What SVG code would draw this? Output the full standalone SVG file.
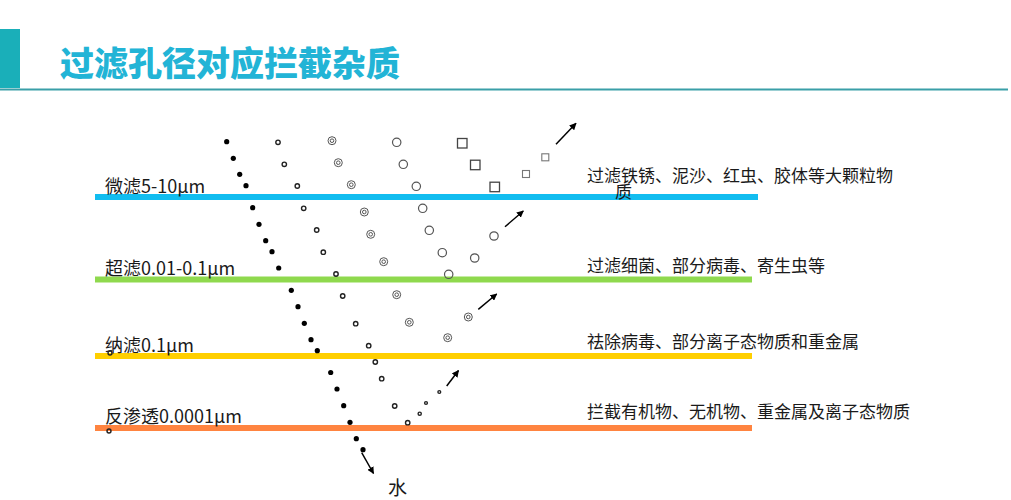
<svg xmlns="http://www.w3.org/2000/svg" width="1011" height="500" viewBox="0 0 1011 500">
<defs>
<style>
.t{font-family:"Noto Sans CJK SC","Liberation Sans",sans-serif;fill:#1a1a1a}
.lbl{font-size:18px}
.rl{font-size:17px}
.bd{fill:#000}
.sc{fill:none;stroke:#222;stroke-width:1.4}
.dc{fill:none;stroke:#555;stroke-width:1}
.oc{fill:none;stroke:#555;stroke-width:1.2}
.sq{fill:none;stroke:#444;stroke-width:1.3}
.sq2{fill:none;stroke:#777;stroke-width:1.1}
.ar{stroke:#000;stroke-width:1.5;fill:none;marker-end:url(#ah)}
</style>
<marker id="ah" viewBox="0 0 10 10" refX="9" refY="5" markerWidth="7" markerHeight="7" orient="auto" markerUnits="userSpaceOnUse">
<path d="M0,0 L10,5 L0,10 z" fill="#000"/>
</marker>
<g id="dc"><circle r="4" class="dc"/><circle r="1.8" class="dc"/></g>
</defs>
<rect width="1011" height="500" fill="#fff"/>
<g id="header">
<rect x="0" y="29" width="20" height="59" fill="#1aafb9"/>
<line x1="0" y1="89.5" x2="1008" y2="89.5" stroke="#3a9fa8" stroke-width="2"/>
<text x="60" y="76" font-family="'Noto Sans CJK SC',sans-serif" font-weight="900" font-size="34" fill="#22b4d6">过滤孔径对应拦截杂质</text>
</g>
<g id="filters">
<line x1="95" y1="197" x2="758" y2="197" stroke="#12bdf0" stroke-width="6"/>
<line x1="95" y1="279.5" x2="752" y2="279.5" stroke="#8fd94e" stroke-width="6"/>
<line x1="95" y1="356" x2="752" y2="356" stroke="#ffcf00" stroke-width="6"/>
<line x1="95" y1="428" x2="752" y2="428" stroke="#ff8440" stroke-width="6"/>
</g>
<g id="left-labels">
<text class="t lbl" x="105" y="193">微滤5-10μm</text>
<text class="t lbl" x="105" y="275">超滤0.01-0.1μm</text>
<text class="t lbl" x="105" y="352">纳滤0.1μm</text>
<text class="t lbl" x="105" y="423">反渗透0.0001μm</text>
<circle cx="110" cy="353" r="2" class="sc"/>
<circle cx="109" cy="431" r="2" class="sc"/>
</g>
<g id="right-labels">
<text class="t rl" x="587" y="182">过滤铁锈、泥沙、红虫、胶体等大颗粒物</text>
<text class="t rl" x="615" y="198">质</text>
<text class="t rl" x="587" y="272">过滤细菌、部分病毒、寄生虫等</text>
<text class="t rl" x="587" y="348">祛除病毒、部分离子态物质和重金属</text>
<text class="t rl" x="587" y="418">拦截有机物、无机物、重金属及离子态物质</text>
</g>
<g id="water-dots">
<circle class="bd" cx="226.7" cy="141.7" r="2.6"/>
<circle class="bd" cx="233.3" cy="158.3" r="2.6"/>
<circle class="bd" cx="239.7" cy="174.3" r="2.6"/>
<circle class="bd" cx="246" cy="185.7" r="2.6"/>
<circle class="bd" cx="252.7" cy="207.7" r="2.6"/>
<circle class="bd" cx="259" cy="224.3" r="2.6"/>
<circle class="bd" cx="265.7" cy="240.7" r="2.6"/>
<circle class="bd" cx="272" cy="251.7" r="2.6"/>
<circle class="bd" cx="278.7" cy="268" r="2.6"/>
<circle class="bd" cx="291.3" cy="290.3" r="2.6"/>
<circle class="bd" cx="298" cy="306.7" r="2.6"/>
<circle class="bd" cx="304.3" cy="323.3" r="2.6"/>
<circle class="bd" cx="311" cy="339.7" r="2.6"/>
<circle class="bd" cx="317.3" cy="350.7" r="2.6"/>
<circle class="bd" cx="330.7" cy="372.5" r="2.6"/>
<circle class="bd" cx="337" cy="389" r="2.6"/>
<circle class="bd" cx="343.7" cy="405.7" r="2.6"/>
<circle class="bd" cx="350" cy="422.3" r="2.6"/>
<circle class="bd" cx="356.3" cy="438.7" r="2.6"/>
<circle class="bd" cx="363" cy="449.7" r="2.6"/>
</g>
<g id="small-circles">
<circle class="sc" cx="278" cy="142.3" r="2.2"/>
<circle class="sc" cx="284.3" cy="164.3" r="2.2"/>
<circle class="sc" cx="297.3" cy="186" r="2.2"/>
<circle class="sc" cx="303.7" cy="208.3" r="2.2"/>
<circle class="sc" cx="316.7" cy="230" r="2.2"/>
<circle class="sc" cx="323.3" cy="252.2" r="2.2"/>
<circle class="sc" cx="336" cy="274" r="2.2"/>
<circle class="sc" cx="342.7" cy="296" r="2.2"/>
<circle class="sc" cx="355.7" cy="323.7" r="2.2"/>
<circle class="sc" cx="368.7" cy="345.7" r="2.2"/>
<circle class="sc" cx="375.3" cy="362" r="2.2"/>
<circle class="sc" cx="381.7" cy="378.7" r="2.2"/>
<circle class="sc" cx="394.7" cy="406" r="2.2"/>
<circle class="sc" cx="407.7" cy="422.7" r="2.2"/>
<circle class="sc" cx="419.7" cy="413.7" r="1.6"/>
<circle class="sc" cx="426" cy="403" r="1.4"/>
<circle class="sc" cx="439.3" cy="392" r="1.4"/>
</g>
<g id="double-circles">
<use href="#dc" x="332" y="140.7"/>
<use href="#dc" x="338.3" y="162.7"/>
<use href="#dc" x="351.3" y="184.7"/>
<use href="#dc" x="364.3" y="212"/>
<use href="#dc" x="370.7" y="234.3"/>
<use href="#dc" x="383.7" y="261.7"/>
<use href="#dc" x="396.7" y="294.7"/>
<use href="#dc" x="409.3" y="322.3"/>
<use href="#dc" x="447.7" y="337.7"/>
<use href="#dc" x="468.3" y="317"/>
</g>
<g id="open-circles">
<circle class="oc" cx="396.7" cy="142.3" r="4.2"/>
<circle class="oc" cx="403.3" cy="164.3" r="4.2"/>
<circle class="oc" cx="416.3" cy="186.3" r="4.2"/>
<circle class="oc" cx="422.7" cy="208.3" r="4.2"/>
<circle class="oc" cx="429.3" cy="230.3" r="4.2"/>
<circle class="oc" cx="442.3" cy="252.7" r="4.2"/>
<circle class="oc" cx="448.7" cy="274.3" r="4.2"/>
<circle class="oc" cx="474.7" cy="258" r="4.2"/>
<circle class="oc" cx="494" cy="236" r="4.2"/>
</g>
<g id="squares">
<rect class="sq" x="457.5" y="138.5" width="9.5" height="9.5"/>
<rect class="sq" x="470.5" y="160.2" width="9.5" height="9.5"/>
<rect class="sq" x="490" y="182.2" width="9.5" height="9.5"/>
<rect class="sq2" x="522.5" y="170.5" width="7" height="7"/>
<rect class="sq2" x="541.8" y="153.8" width="7" height="7"/>
</g>
<g id="connectors">
<line class="ar" x1="361.7" y1="452.7" x2="373.5" y2="473.5"/>
<line class="ar" x1="446.7" y1="386" x2="458.5" y2="370.5"/>
<line class="ar" x1="478.3" y1="309.3" x2="496.7" y2="294"/>
<line class="ar" x1="505" y1="226.7" x2="523.3" y2="211"/>
<line class="ar" x1="556" y1="144.3" x2="576" y2="123.3"/>
</g>
<text class="t" x="388" y="495" font-size="19">水</text>
</svg>
